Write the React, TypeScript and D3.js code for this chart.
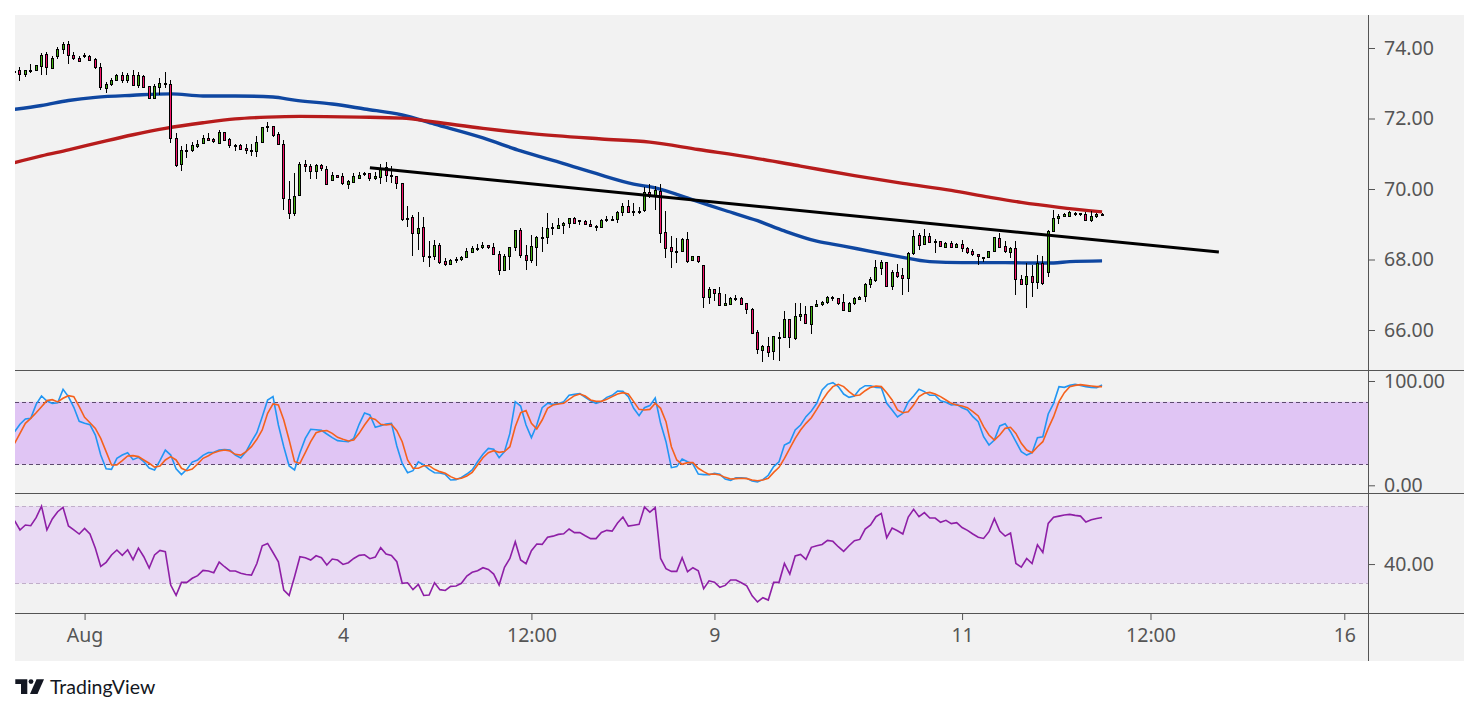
import { useEffect, useRef } from "react";
import * as d3 from "d3";

// candles, one value per bar
const opens = [
  73.33,73.39,73.27,73.36,73.37,73.50,73.82,73.44,73.75,73.96,
  74.10,73.79,73.71,73.78,73.78,73.68,73.45,72.87,72.96,73.08,
  73.22,73.08,73.22,72.93,73.21,72.91,72.57,72.91,72.99,72.99,
  71.46,70.70,71.09,71.10,71.24,71.29,71.46,71.41,71.32,71.63,
  71.41,71.23,71.24,71.15,71.08,71.07,71.32,71.78,71.80,71.55,
  71.27,69.72,69.31,69.81,70.70,70.64,70.49,70.67,70.58,70.26,
  70.41,70.36,70.13,70.19,70.33,70.43,70.44,70.29,70.35,70.61,
  70.37,70.36,70.16,69.14,69.20,68.74,68.91,68.08,68.08,68.40,
  67.95,67.87,68.00,67.99,68.05,68.22,68.32,68.33,68.40,68.35,
  68.17,67.70,68.09,68.34,68.83,68.12,67.97,68.36,68.62,68.62,
  68.88,68.89,68.96,69.02,69.17,69.08,69.08,69.00,68.94,68.92,
  69.11,69.12,69.14,69.34,69.51,69.34,69.37,69.39,69.91,69.81,
  69.93,68.77,68.35,68.21,68.23,68.57,67.97,68.09,67.83,66.93,
  67.15,67.04,66.69,66.75,66.90,66.90,66.76,66.59,65.93,65.44,
  65.54,65.39,65.78,65.78,66.30,65.78,66.38,66.44,66.18,66.66,
  66.72,66.80,66.90,66.90,66.79,66.54,66.75,66.88,66.95,67.29,
  67.40,67.77,67.92,67.23,67.64,67.55,67.47,68.17,68.69,68.42,
  68.66,68.50,68.52,68.36,68.47,68.36,68.43,68.32,68.23,68.15,
  68.06,68.06,68.23,68.61,68.37,68.22,68.32,67.44,67.30,67.52,
  67.35,67.91,67.63,68.79,69.15,69.22,69.25,69.30,69.28,69.29,
  69.12,69.22,69.29,
];
const highs = [
  73.40,73.46,73.38,73.55,73.52,73.86,73.90,73.77,74.02,74.16,
  74.19,73.90,73.77,73.87,73.80,73.72,73.57,73.03,73.14,73.25,
  73.31,73.30,73.38,73.32,73.22,72.93,72.97,73.14,73.32,73.08,
  71.58,71.22,71.27,71.33,71.38,71.52,71.58,71.46,71.66,71.63,
  71.44,71.29,71.27,71.27,71.27,71.49,71.77,71.89,71.80,71.61,
  71.38,70.22,70.44,70.76,70.82,70.70,70.70,70.70,70.65,70.49,
  70.41,70.44,70.25,70.44,70.49,70.48,70.46,70.47,70.71,70.77,
  70.66,70.36,70.16,69.52,69.26,69.35,69.21,68.52,68.55,68.46,
  68.04,68.01,68.07,68.10,68.32,68.38,68.45,68.49,68.40,68.46,
  68.23,68.17,68.35,68.83,68.88,68.41,68.69,68.67,68.92,69.32,
  69.03,69.17,69.07,69.17,69.20,69.11,69.11,69.11,68.99,69.14,
  69.22,69.22,69.37,69.60,69.69,69.60,69.48,70.05,70.13,70.08,
  70.14,69.39,68.66,68.60,68.60,68.77,68.09,68.09,67.83,67.22,
  67.15,67.21,67.02,66.94,66.99,66.94,66.76,66.61,66.00,65.57,
  65.80,65.83,65.94,66.54,66.31,66.78,66.76,66.68,66.69,66.84,
  66.82,66.96,66.96,66.92,67.02,66.79,66.94,66.96,67.32,67.50,
  68.00,67.99,67.93,67.70,67.87,67.77,68.21,68.84,68.76,68.86,
  68.76,68.59,68.52,68.51,68.52,68.48,68.54,68.36,68.30,68.15,
  68.08,68.25,68.64,68.75,68.52,68.35,68.52,67.56,67.89,67.83,
  68.12,68.09,68.84,69.40,69.28,69.32,69.37,69.35,69.32,69.35,
  69.37,69.32,69.33,
];
const lows = [
  73.27,73.05,73.19,73.28,73.36,73.22,73.24,73.41,73.70,73.83,
  73.55,73.66,73.61,73.71,73.67,73.41,72.82,72.73,72.93,73.06,
  73.01,73.02,72.93,72.87,72.86,72.56,72.56,72.67,72.86,71.31,
  70.63,70.52,70.89,71.04,71.17,71.27,71.39,71.31,71.31,71.38,
  71.17,71.09,71.11,71.00,70.93,70.92,71.31,71.63,71.48,71.26,
  69.40,69.16,69.22,69.80,70.49,70.29,70.29,70.52,70.12,70.23,
  70.32,70.10,70.00,70.16,70.31,70.38,70.24,70.26,70.15,70.20,
  70.17,70.00,69.10,68.92,68.11,68.27,67.94,67.80,68.00,67.87,
  67.82,67.85,67.90,67.97,68.04,68.19,68.25,68.30,68.31,68.13,
  67.56,67.68,67.70,68.25,68.05,67.70,67.91,67.82,68.22,68.44,
  68.70,68.87,68.72,68.89,69.03,68.98,68.97,68.91,68.81,68.90,
  69.05,69.08,69.03,69.24,69.31,69.22,69.28,69.34,69.74,69.40,
  68.48,68.05,67.77,67.89,68.22,67.91,67.95,67.91,66.63,66.75,
  66.82,66.70,66.68,66.73,66.82,66.71,66.46,65.91,65.33,65.10,
  65.22,65.15,65.13,65.77,65.50,65.73,66.26,66.17,65.90,66.65,
  66.69,66.75,66.81,66.72,66.54,66.52,66.72,66.86,66.80,67.20,
  67.37,67.56,67.23,67.14,67.48,66.99,67.09,68.13,68.28,68.41,
  68.47,68.18,68.35,68.34,68.35,68.34,68.22,68.15,68.09,67.85,
  67.94,68.04,68.20,68.34,68.19,68.04,66.99,67.27,66.63,66.95,
  67.17,67.29,67.50,68.79,69.02,69.20,69.23,69.23,69.23,69.12,
  69.07,69.18,69.28,
];
const closes = [
  73.35,73.28,73.37,73.37,73.51,73.80,73.45,73.73,73.96,74.10,
  73.79,73.70,73.62,73.79,73.68,73.44,72.88,72.97,73.08,73.22,
  73.08,73.22,72.94,73.22,72.91,72.57,72.91,73.02,73.02,71.46,
  70.70,71.10,71.10,71.24,71.29,71.44,71.41,71.35,71.63,71.41,
  71.24,71.24,71.14,71.10,71.10,71.32,71.75,71.80,71.54,71.27,
  69.73,69.33,69.79,70.70,70.63,70.49,70.67,70.58,70.15,70.41,
  70.35,70.15,70.22,70.36,70.41,70.45,70.29,70.36,70.58,70.38,
  70.40,70.15,69.13,69.17,68.74,68.88,68.08,68.09,68.40,67.91,
  67.87,67.98,68.02,68.06,68.23,68.33,68.34,68.40,68.33,68.16,
  67.72,68.09,68.35,68.83,68.11,67.98,68.37,68.63,68.64,68.88,
  68.91,68.97,69.03,69.17,69.04,69.11,68.99,68.93,68.96,69.11,
  69.14,69.14,69.34,69.51,69.34,69.37,69.39,69.91,69.81,69.96,
  68.74,68.32,68.23,68.23,68.57,67.96,68.09,67.94,66.93,67.15,
  67.04,66.71,66.76,66.91,66.92,66.72,66.58,65.92,65.44,65.54,
  65.37,65.82,65.80,66.30,65.78,66.39,66.44,66.19,66.68,66.73,
  66.79,66.93,66.93,66.75,66.55,66.76,66.90,66.95,67.30,67.44,
  67.78,67.93,67.24,67.64,67.54,67.47,68.18,68.66,68.42,68.66,
  68.49,68.52,68.37,68.47,68.36,68.44,68.31,68.21,68.15,68.08,
  68.08,68.23,68.63,68.36,68.22,68.32,67.44,67.29,67.52,67.35,
  67.89,67.34,68.80,69.17,69.22,69.29,69.35,69.31,69.31,69.13,
  69.23,69.29,69.30,
];

// moving averages: bar number and price
const blueBars = [0,5,10,15,22,29,35,41,48,52,59,65,72,78,87,94,102,108,115,119,126,132,138,143,149,154,159,164,170,176,184,190,193,196,202];
const blueValues = [72.26,72.37,72.51,72.60,72.66,72.70,72.64,72.64,72.61,72.52,72.41,72.27,72.10,71.84,71.45,71.08,70.72,70.44,70.14,70.03,69.69,69.39,69.10,68.81,68.52,68.38,68.23,68.09,67.94,67.91,67.91,67.90,67.90,67.94,67.96];
const redBars = [0,5,10,16,22,28,35,41,47,53,64,72,78,87,96,109,118,127,137,146,156,165,174,181,187,194,202];
const redValues = [70.75,70.94,71.11,71.33,71.54,71.72,71.88,71.99,72.04,72.06,72.04,72.01,71.90,71.72,71.57,71.42,71.33,71.12,70.89,70.65,70.38,70.16,69.96,69.77,69.62,69.48,69.35];

// hand drawn trend line
const trendBars = [66, 223.7];
const trendValues = [70.6, 68.21];

const stochK = [
  51.4,58.5,63.6,64.2,77.6,85.6,80.8,78.6,79.2,92.0,
  85.0,74.8,61.3,59.4,58.1,48.2,29.0,15.9,15.3,25.9,
  29.0,31.3,24.6,26.8,22.7,16.6,14.7,23.6,33.8,29.0,
  15.9,10.2,15.3,22.3,24.3,28.7,31.3,31.6,33.8,34.2,
  33.8,29.0,26.2,32.3,41.8,50.4,65.8,81.8,85.0,57.8,
  37.0,18.5,14.7,31.3,45.0,53.7,53.3,52.7,49.2,45.7,
  42.8,42.2,41.8,45.0,58.5,69.3,67.4,55.6,57.2,58.8,
  59.4,37.7,21.0,12.1,14.0,22.6,19.5,15.3,12.1,11.8,
  10.5,5.1,5.4,7.6,10.8,14.7,22.6,29.7,35.4,34.5,
  26.5,32.3,49.8,80.2,76.0,57.8,45.7,57.8,74.4,78.6,
  77.6,78.3,80.2,86.3,87.2,87.9,84.3,81.1,78.6,80.2,
  84.3,86.3,90.4,90.1,85.0,73.8,66.8,74.4,76.4,83.7,
  59.4,41.8,16.9,17.9,25.2,22.6,20.4,10.8,10.2,10.2,
  11.5,10.5,6.0,4.8,7.3,7.3,6.7,4.1,3.2,5.4,
  9.6,17.9,22.6,38.6,41.2,53.0,57.8,65.8,71.2,78.6,
  91.4,96.8,98.4,94.6,87.5,84.3,85.6,92.3,95.5,95.5,
  93.9,93.6,78.6,72.2,65.5,69.0,79.9,85.6,92.0,89.8,
  86.3,86.3,81.1,79.6,77.0,77.6,74.4,72.2,65.8,61.0,
  46.6,38.6,43.4,56.9,59.1,51.4,41.8,32.3,29.0,31.3,
  45.7,46.6,68.4,78.6,94.6,93.9,95.8,96.8,95.8,94.6,
  93.9,93.6,96.2,
];
const stochD = [
  40.2,49.8,59.4,64.2,69.6,75.4,81.2,82.1,79.9,83.4,
  85.9,85.0,75.4,65.2,60.0,54.6,45.0,32.3,19.5,19.5,
  23.6,28.1,28.4,27.5,24.3,21.1,17.5,18.5,24.3,27.5,
  24.3,16.3,14.0,15.6,20.4,25.9,28.4,31.3,32.9,33.9,
  32.9,29.7,29.0,32.3,37.0,44.1,53.0,69.0,78.0,77.0,
  62.6,43.4,22.6,21.0,31.3,41.8,50.4,52.0,52.4,49.8,
  46.0,44.1,42.5,43.4,49.8,57.8,64.8,63.2,58.5,57.8,
  58.5,52.4,41.8,24.3,16.3,16.3,18.8,18.8,15.3,13.1,
  11.5,8.3,6.0,6.7,8.9,12.4,19.5,26.5,31.3,33.2,
  31.6,32.3,37.0,56.2,69.6,71.6,59.4,54.0,62.6,73.8,
  77.0,78.0,78.6,82.4,85.9,87.5,85.6,81.8,80.5,80.5,
  82.4,85.0,87.5,88.8,87.5,80.2,72.8,72.2,72.8,78.6,
  73.8,61.0,37.0,24.3,20.1,21.7,21.7,16.3,13.1,10.5,
  10.8,9.9,7.6,6.0,6.4,6.7,6.4,5.1,4.4,5.1,
  6.7,12.4,17.2,25.9,35.4,45.0,53.0,59.4,64.8,72.8,
  81.2,88.8,94.6,96.8,94.6,89.8,85.9,86.6,90.7,93.9,
  95.2,94.6,88.8,81.8,72.2,69.6,70.6,77.0,85.0,88.2,
  89.1,87.5,85.0,81.8,78.6,77.0,76.0,74.4,70.6,66.5,
  56.2,48.2,43.4,48.2,54.6,55.6,49.8,40.2,33.8,31.3,
  37.0,41.8,54.6,65.8,80.2,88.8,94.6,95.8,96.5,95.8,
  95.2,94.6,94.6,
];
const rsi = [
  62.5,57.7,60.3,59.9,64.1,70.1,57.7,63.4,67.2,69.4,
  59.8,57.7,55.6,58.5,55.6,48.2,38.8,40.9,44.7,47.3,
  44.5,47.4,42.3,48.3,43.8,37.9,44.7,47.1,46.4,29.1,
  23.7,30.5,30.5,32.6,34.0,36.7,36.4,35.5,41.0,38.6,
  36.4,36.4,35.2,34.6,34.3,40.3,49.5,50.7,46.0,41.2,
  26.5,23.7,33.4,43.8,43.3,42.1,44.3,43.3,39.5,42.6,
  42.1,39.8,40.7,42.9,44.5,44.8,42.8,43.6,48.5,45.2,
  44.5,41.2,30.0,30.3,26.7,29.4,23.7,23.9,30.3,26.7,
  26.3,28.4,28.6,30.0,33.8,35.7,36.5,38.1,37.2,34.8,
  29.1,38.3,42.9,51.6,42.1,40.2,46.9,50.4,50.2,53.9,
  54.5,55.4,55.7,58.2,56.3,56.3,54.7,53.2,53.2,56.4,
  57.5,57.1,61.3,64.4,59.7,60.2,60.6,69.6,67.0,69.3,
  42.9,37.6,36.2,36.2,43.3,36.0,38.1,36.5,27.2,31.3,
  30.6,27.9,28.9,31.7,31.7,30.3,28.7,23.5,20.3,22.5,
  21.3,30.5,30.5,40.3,34.8,44.2,45.0,42.4,48.7,49.5,
  50.2,52.3,51.8,49.0,46.6,49.5,52.1,52.8,58.2,60.3,
  64.6,66.3,53.7,58.7,57.3,55.6,64.4,68.4,64.6,66.7,
  63.9,63.9,61.7,62.7,61.0,61.5,59.0,57.5,55.6,53.9,
  53.3,56.8,63.6,57.1,54.5,56.1,40.3,38.4,42.9,40.3,
  50.0,46.0,61.1,64.3,64.9,65.5,65.8,65.3,64.9,61.8,
  63.0,63.7,64.2,
];

const priceTicks = [66, 68, 70, 72, 74];
const stochTicks = [0, 100];
const rsiTicks = [40];
const timeTickBars = [13, 61, 96, 130, 176, 211, 247];
const timeTickLabels = ["Aug", "4", "12:00", "9", "11", "12:00", "16"];

const WIDTH = 1479;
const HEIGHT = 714;
const LEFT = 15;
const AXIS_X = 1368;
const RIGHT = 1464;
const TOP = 15;
const BOTTOM = 661;
const PANE1 = 370;
const PANE2 = 493;
const PANE3 = 613;
const FONT = "Noto Sans, sans-serif";
const AXIS_COLOR = "#555";

export default function App() {
  const ref = useRef<SVGSVGElement>(null);

  useEffect(() => {
    const svg = d3.select(ref.current);
    svg.selectAll("*").remove();

    const x = d3.scaleLinear().domain([0, 247]).range([14.6, 1344.3]);
    const yPrice = d3.scaleLinear().domain([66, 74]).range([330, 48]);
    const yStoch = d3.scaleLinear().domain([0, 100]).range([485.3, 381]);
    const yRsi = d3.scaleLinear().domain([30, 70]).range([583.3, 506.3]);

    svg.append("rect").attr("x", LEFT).attr("y", TOP).attr("width", RIGHT - LEFT).attr("height", BOTTOM - TOP).attr("fill", "#f2f2f2");

    const defs = svg.append("defs");
    const addClip = (id: string, y0: number, y1: number) =>
      defs.append("clipPath").attr("id", id).append("rect").attr("x", LEFT).attr("y", y0).attr("width", AXIS_X - LEFT).attr("height", y1 - y0);
    addClip("clip-price", TOP, PANE1);
    addClip("clip-stoch", PANE1, PANE2);
    addClip("clip-rsi", PANE2, PANE3);

    // price pane
    const price = svg.append("g").attr("clip-path", "url(#clip-price)");
    const maLine = d3.line<number>().curve(d3.curveMonotoneX).x((d) => x(d));
    const drawMa = (bars: number[], values: number[], color: string) => {
      price
        .append("path")
        .attr("d", maLine.y((_, i) => yPrice(values[i]))(bars))
        .attr("fill", "none")
        .attr("stroke", color)
        .attr("stroke-width", 3.4);
    };
    drawMa(blueBars, blueValues, "#0f47a1");
    drawMa(redBars, redValues, "#b71c1c");

    const candles = price
      .selectAll("g.candle")
      .data(opens.map((_, i) => i))
      .join("g")
      .attr("class", "candle")
      .attr("shape-rendering", "crispEdges");
    const px = (i: number) => Math.floor(x(i)) + 0.5;
    candles
      .append("line")
      .attr("x1", px)
      .attr("x2", px)
      .attr("y1", (i) => yPrice(highs[i]))
      .attr("y2", (i) => yPrice(lows[i]))
      .attr("stroke", "#000");
    candles
      .append("rect")
      .attr("x", (i) => px(i) - 1)
      .attr("width", 2)
      .attr("y", (i) => Math.round(yPrice(Math.max(opens[i], closes[i]))) + 0.5)
      .attr("height", (i) => Math.max(1, Math.round(Math.abs(yPrice(opens[i]) - yPrice(closes[i])))))
      .attr("fill", (i) => (closes[i] >= opens[i] ? "#40b010" : "#f4146a"))
      .attr("stroke", "#000");

    price
      .append("path")
      .attr("d", maLine.curve(d3.curveLinear).y((_, i) => yPrice(trendValues[i]))(trendBars))
      .attr("fill", "none")
      .attr("stroke", "#000")
      .attr("stroke-width", 3);

    // stochastic pane
    const line = d3.line<number>().x((_, i) => x(i));
    const stoch = svg.append("g").attr("clip-path", "url(#clip-stoch)");
    stoch
      .append("rect")
      .attr("x", LEFT)
      .attr("y", yStoch(80))
      .attr("width", AXIS_X - LEFT)
      .attr("height", yStoch(20) - yStoch(80))
      .attr("fill", "#e0c5f4");
    [80, 20].forEach((v) =>
      stoch
        .append("line")
        .attr("x1", LEFT)
        .attr("x2", AXIS_X)
        .attr("y1", Math.round(yStoch(v)) + 0.5)
        .attr("y2", Math.round(yStoch(v)) + 0.5)
        .attr("stroke", "#5c4a6e")
        .attr("stroke-dasharray", "4 3"),
    );
    stoch.append("path").attr("d", line.y((d) => yStoch(d))(stochK)).attr("fill", "none").attr("stroke", "#2196f3").attr("stroke-width", 1.6);
    stoch.append("path").attr("d", line.y((d) => yStoch(d))(stochD)).attr("fill", "none").attr("stroke", "#f5611c").attr("stroke-width", 1.6);

    // rsi pane
    const rsiPane = svg.append("g").attr("clip-path", "url(#clip-rsi)");
    rsiPane
      .append("rect")
      .attr("x", LEFT)
      .attr("y", yRsi(70))
      .attr("width", AXIS_X - LEFT)
      .attr("height", yRsi(30) - yRsi(70))
      .attr("fill", "#e9daf4");
    [70, 30].forEach((v) =>
      rsiPane
        .append("line")
        .attr("x1", LEFT)
        .attr("x2", AXIS_X)
        .attr("y1", Math.round(yRsi(v)) + 0.5)
        .attr("y2", Math.round(yRsi(v)) + 0.5)
        .attr("stroke", "#c0aec9")
        .attr("stroke-dasharray", "4 3"),
    );
    rsiPane.append("path").attr("d", line.y((d) => yRsi(d))(rsi)).attr("fill", "none").attr("stroke", "#8e1fa6").attr("stroke-width", 1.6);

    // pane borders
    svg
      .selectAll("line.sep")
      .data([PANE1, PANE2, PANE3])
      .join("line")
      .attr("class", "sep")
      .attr("x1", LEFT)
      .attr("x2", RIGHT)
      .attr("y1", (d) => d + 0.5)
      .attr("y2", (d) => d + 0.5)
      .attr("stroke", AXIS_COLOR);
    svg.append("line").attr("x1", AXIS_X + 0.5).attr("x2", AXIS_X + 0.5).attr("y1", TOP).attr("y2", BOTTOM).attr("stroke", AXIS_COLOR);

    // axes
    const styleAxis = (g: any) => {
      g.select(".domain").remove();
      g.selectAll("line").attr("stroke", AXIS_COLOR);
      g.selectAll("text").attr("fill", AXIS_COLOR).attr("font-family", FONT).attr("font-size", 19.5);
    };
    const rightAxis = (scale: any, ticks: number[]) =>
      d3.axisRight(scale).tickValues(ticks).tickFormat(d3.format(".2f") as any).tickSize(7).tickPadding(9);
    svg.append("g").attr("transform", `translate(${AXIS_X},0)`).call(rightAxis(yPrice, priceTicks)).call(styleAxis);
    svg.append("g").attr("transform", `translate(${AXIS_X},0)`).call(rightAxis(yStoch, stochTicks)).call(styleAxis);
    svg.append("g").attr("transform", `translate(${AXIS_X},0)`).call(rightAxis(yRsi, rsiTicks)).call(styleAxis);
    svg
      .append("g")
      .attr("transform", `translate(0,${PANE3})`)
      .call(
        d3
          .axisBottom(x)
          .tickValues(timeTickBars)
          .tickFormat((_, i) => timeTickLabels[i])
          .tickSize(7)
          .tickPadding(8),
      )
      .call(styleAxis);

    // logo
    const logo = svg.append("g").attr("fill", "#131722");
    logo.append("path").attr("d", "M15.3 679.3H27.3V694H21V684H15.3Z");
    logo.append("circle").attr("cx", 31).attr("cy", 681.6).attr("r", 2.4);
    logo.append("path").attr("d", "M36.5 679.3H44L37.5 694H30Z");
    logo
      .append("text")
      .attr("x", 50)
      .attr("y", 694)
      .attr("font-family", "Lato, sans-serif")
      .attr("font-size", 19.5)
      .attr("fill", "#131722")
      .text("TradingView");
  }, []);

  return <svg ref={ref} width={WIDTH} height={HEIGHT} style={{ position: "fixed", left: 0, top: 0, display: "block", background: "#fff" }} />;
}
